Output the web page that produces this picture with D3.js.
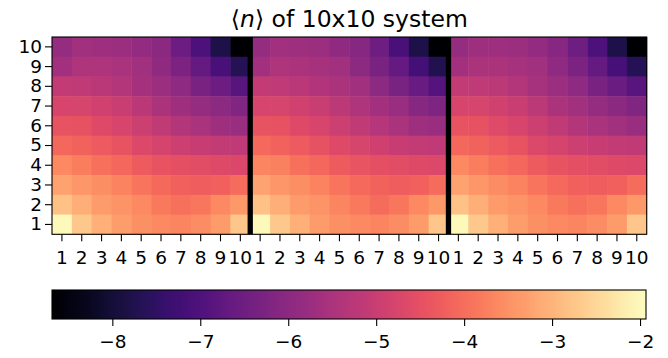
<!DOCTYPE html>
<meta charset="utf-8">
<style>
  body { margin: 0; background: #fff; }
  text { font-family: "DejaVu Sans", sans-serif; fill: #000; }
</style>
<script src="https://d3js.org/d3.v7.min.js"></script>
<div id="chart"></div>
<script>
// <n> values, rows listed from top (row 10) down to row 1, columns 1..10
var panelA = [
  [-5.85,-5.65,-5.68,-5.71,-5.88,-6.02,-6.52,-7.07,-7.81,-8.69],
  [-5.61,-5.44,-5.44,-5.51,-5.65,-5.92,-6.25,-6.66,-7.10,-7.67],
  [-5.11,-5.17,-5.24,-5.34,-5.58,-5.71,-5.95,-6.29,-6.52,-6.86],
  [-4.74,-4.77,-4.87,-5.00,-5.24,-5.48,-5.68,-5.85,-5.98,-6.19],
  [-4.43,-4.46,-4.63,-4.74,-4.94,-5.14,-5.34,-5.51,-5.68,-5.78],
  [-4.09,-4.16,-4.30,-4.43,-4.67,-4.80,-4.94,-5.04,-5.11,-5.17],
  [-3.62,-3.76,-3.96,-4.09,-4.26,-4.43,-4.50,-4.57,-4.63,-4.70],
  [-3.25,-3.42,-3.52,-3.69,-3.89,-4.06,-4.19,-4.23,-4.19,-4.03],
  [-2.78,-3.08,-3.35,-3.45,-3.62,-3.82,-3.96,-3.86,-3.62,-3.39],
  [-2.00,-2.71,-3.05,-3.32,-3.49,-3.62,-3.65,-3.55,-3.35,-2.74]
];
var panelB = [
  [-5.85,-5.65,-5.68,-5.71,-5.92,-6.09,-6.49,-7.10,-7.81,-8.69],
  [-5.61,-5.44,-5.48,-5.55,-5.65,-5.98,-6.32,-6.66,-7.20,-7.74],
  [-5.11,-5.17,-5.24,-5.38,-5.48,-5.65,-5.98,-6.32,-6.59,-6.93],
  [-4.74,-4.77,-4.87,-5.00,-5.21,-5.44,-5.61,-5.78,-6.09,-6.22],
  [-4.43,-4.46,-4.63,-4.74,-4.94,-5.14,-5.31,-5.51,-5.68,-5.78],
  [-4.06,-4.16,-4.30,-4.46,-4.63,-4.77,-4.90,-5.04,-5.11,-5.17],
  [-3.65,-3.72,-3.96,-4.09,-4.26,-4.40,-4.50,-4.57,-4.63,-4.67],
  [-3.25,-3.42,-3.52,-3.69,-3.89,-4.06,-4.16,-4.23,-4.19,-4.03],
  [-2.78,-3.08,-3.35,-3.45,-3.65,-3.82,-3.99,-3.86,-3.62,-3.39],
  [-2.00,-2.71,-3.05,-3.35,-3.49,-3.62,-3.65,-3.55,-3.35,-2.74]
];
var panelC = [
  [-5.85,-5.68,-5.68,-5.71,-5.88,-6.05,-6.49,-7.07,-7.81,-8.69],
  [-5.61,-5.48,-5.48,-5.55,-5.65,-5.95,-6.25,-6.66,-7.13,-7.67],
  [-5.11,-5.17,-5.21,-5.34,-5.55,-5.71,-5.95,-6.29,-6.55,-6.86],
  [-4.74,-4.77,-4.87,-5.00,-5.21,-5.48,-5.65,-5.85,-6.02,-6.19],
  [-4.43,-4.46,-4.60,-4.74,-4.94,-5.14,-5.34,-5.51,-5.65,-5.78],
  [-4.09,-4.16,-4.30,-4.43,-4.67,-4.80,-4.94,-5.04,-5.11,-5.14],
  [-3.62,-3.76,-3.96,-4.09,-4.26,-4.43,-4.50,-4.57,-4.63,-4.67],
  [-3.25,-3.42,-3.55,-3.69,-3.89,-4.06,-4.19,-4.23,-4.19,-4.03],
  [-2.78,-3.08,-3.35,-3.45,-3.62,-3.82,-3.96,-3.86,-3.62,-3.39],
  [-2.00,-2.71,-3.05,-3.32,-3.49,-3.62,-3.65,-3.55,-3.35,-2.74]
];
var rowLabels = [10, 9, 8, 7, 6, 5, 4, 3, 2, 1];
var colLabels = [1, 2, 3, 4, 5, 6, 7, 8, 9, 10];
var cbarTicks = [-8, -7, -6, -5, -4, -3, -2];
var vmin = -8.686, vmax = -1.932;

(function() {
  var W = 668, H = 358;
  var m = {left: 52, right: 646.7, top: 37, bottom: 234.3};
  var fs = "18.5px";

  var svg = d3.select("#chart").append("svg")
    .attr("width", W).attr("height", H);

  // flatten the three panels into one 10 x 30 grid
  var panels = [panelA, panelB, panelC];
  var cells = [];
  panels.forEach(function(p, pi) {
    p.forEach(function(row, ri) {
      row.forEach(function(v, ci) {
        cells.push({col: pi * 10 + ci, row: rowLabels[ri], v: v});
      });
    });
  });

  var x = d3.scaleBand().domain(d3.range(30)).range([m.left, m.right]);
  var y = d3.scaleBand().domain(rowLabels).range([m.top, m.bottom]);
  var color = d3.scaleSequential(d3.interpolateMagma).domain([vmin, vmax]);

  svg.append("g").selectAll("rect")
    .data(cells)
    .enter().append("rect")
      .attr("x", function(d) { return x(d.col); })
      .attr("y", function(d) { return y(d.row); })
      .attr("width", x.bandwidth() + 0.5)
      .attr("height", y.bandwidth() + 0.5)
      .attr("fill", function(d) { return color(d.v); });

  // separators between the three systems
  svg.append("g").selectAll("line")
    .data([10, 20])
    .enter().append("line")
      .attr("x1", function(d) { return x(d); })
      .attr("x2", function(d) { return x(d); })
      .attr("y1", m.top).attr("y2", m.bottom)
      .attr("stroke", "#000").attr("stroke-width", 5.3);

  svg.append("rect")
    .attr("x", m.left).attr("y", m.top)
    .attr("width", m.right - m.left).attr("height", m.bottom - m.top)
    .attr("fill", "none").attr("stroke", "#000").attr("stroke-width", 1.1);

  var xAxis = svg.append("g")
    .attr("transform", "translate(0," + m.bottom + ")")
    .call(d3.axisBottom(x)
      .tickFormat(function(i) { return colLabels[i % 10]; })
      .tickSize(7).tickSizeOuter(0).tickPadding(10));

  var yAxis = svg.append("g")
    .attr("transform", "translate(" + m.left + ",0)")
    .call(d3.axisLeft(y).tickSize(7).tickSizeOuter(0).tickPadding(3));

  // colorbar, drawn with a gradient built from the same scale
  var cbTop = 290, cbBottom = 319, cbRight = 646;
  var cx = d3.scaleLinear().domain([vmin, vmax]).range([m.left, cbRight]);
  var grad = svg.append("defs").append("linearGradient")
    .attr("id", "cbgrad").attr("x1", "0%").attr("x2", "100%")
    .attr("y1", "0%").attr("y2", "0%");
  grad.selectAll("stop")
    .data(d3.range(0, 65).map(function(i) { return i / 64; }))
    .enter().append("stop")
      .attr("offset", function(t) { return (t * 100) + "%"; })
      .attr("stop-color", function(t) { return color(vmin + (vmax - vmin) * t); });
  svg.append("rect")
    .attr("x", m.left).attr("y", cbTop)
    .attr("width", cbRight - m.left).attr("height", cbBottom - cbTop)
    .attr("fill", "url(#cbgrad)")
    .attr("stroke", "#000").attr("stroke-width", 1.1);

  var cAxis = svg.append("g")
    .attr("transform", "translate(0," + cbBottom + ")")
    .call(d3.axisBottom(cx).tickValues(cbarTicks).tickFormat(d3.format("d"))
      .tickSize(7).tickSizeOuter(0).tickPadding(9));

  [xAxis, yAxis, cAxis].forEach(function(a) {
    a.select(".domain").remove();
    a.selectAll("text").style("font-size", fs).style("font-family", "DejaVu Sans");
    a.selectAll("line").attr("stroke", "#000").attr("stroke-width", 1.1);
  });

  // title
  var title = svg.append("text")
    .attr("x", (m.left + m.right) / 2).attr("y", 27)
    .attr("text-anchor", "middle")
    .style("font-size", "23.5px");
  title.append("tspan").text("\u27E8");
  title.append("tspan").style("font-style", "italic").text("n");
  title.append("tspan").text("\u27E9 of 10x10 system");
})();
</script>
